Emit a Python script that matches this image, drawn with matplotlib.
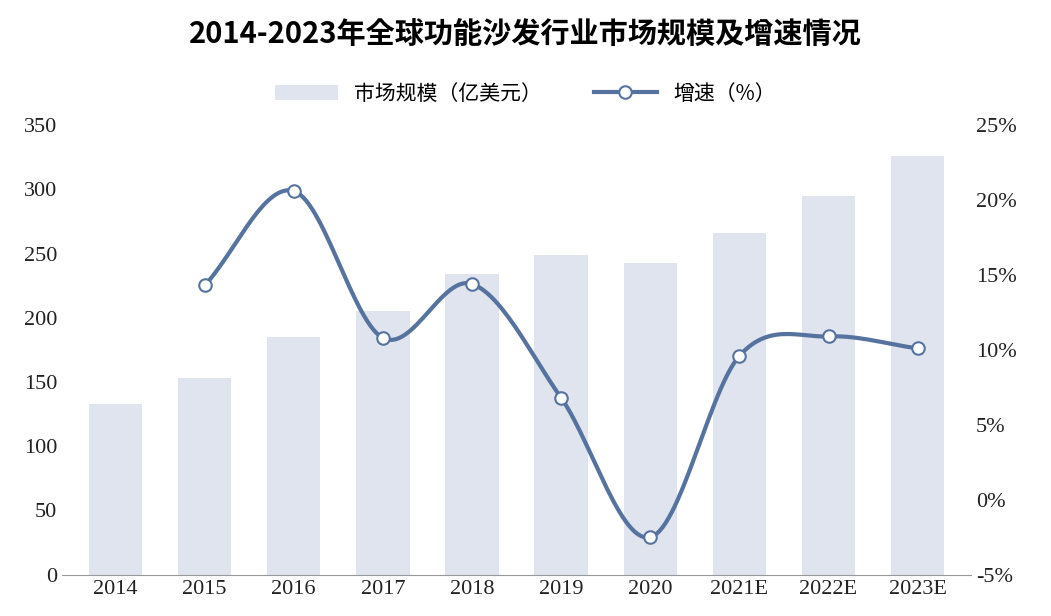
import numpy as np
import matplotlib.pyplot as plt
from matplotlib import font_manager as fm

cjk = [f.name for f in fm.fontManager.ttflist if 'CJK' in f.name]
plt.rcParams['font.family'] = 'sans-serif'
plt.rcParams['font.sans-serif'] = ['Noto Sans CJK SC', 'Noto Sans CJK JP'] + cjk + ['DejaVu Sans']

years = ['2014', '2015', '2016', '2017', '2018', '2019', '2020', '2021E', '2022E', '2023E']
market = [133, 153, 185, 205, 234, 249, 243, 266, 295, 326]
growth_years = years[1:]
growth = [14.3, 20.6, 10.8, 14.4, 6.8, -2.5, 9.6, 10.9, 10.1]


def smooth(x, y, n=30):
    # catmull-rom curve through the points, only for the look of the line
    x = np.asarray(x, float); y = np.asarray(y, float)
    px = np.concatenate([[2 * x[0] - x[1]], x, [2 * x[-1] - x[-2]]])
    py = np.concatenate([[2 * y[0] - y[1]], y, [2 * y[-1] - y[-2]]])
    xs, ys = [], []
    t = np.linspace(0, 1, n)
    for i in range(1, len(px) - 2):
        for p, out in ((px, xs), (py, ys)):
            p0, p1, p2, p3 = p[i - 1], p[i], p[i + 1], p[i + 2]
            out.extend(0.5 * (2 * p1 + (-p0 + p2) * t + (2 * p0 - 5 * p1 + 4 * p2 - p3) * t ** 2
                              + (-p0 + 3 * p1 - 3 * p2 + p3) * t ** 3))
    return xs, ys


fig = plt.figure(figsize=(10.51, 6.16), dpi=100)
ax = fig.add_axes([0.059, 0.067, 0.865, 0.73])
x = np.arange(len(years))
ax.bar(x, market, width=0.6, color='#dfe4ee', label='市场规模（亿美元）')
ax.set_ylim(0, 350)
ax.set_yticks(range(0, 351, 50))
ax.set_xlim(-0.6, len(years) - 0.4)
ax.set_xticks(x)
ax.set_xticklabels(years)

ax2 = ax.twinx()
gx = x[1:]
sx, sy = smooth(gx, growth)
ax2.plot(sx, sy, color='#56739f', lw=3, zorder=3)
ax2.plot(gx, growth, 'o', color='#56739f', mfc='white', mew=1.5, ms=9, zorder=4)
ax2.plot([], [], '-o', color='#56739f', mfc='white', lw=3, mew=1.5, ms=9, label='增速（%）')
ax2.set_ylim(-5, 25)
ax2.set_yticks(range(-5, 26, 5))
ax2.set_yticklabels([f'{v}%' for v in range(-5, 26, 5)])

for a in (ax, ax2):
    for s in a.spines.values():
        s.set_visible(False)
    a.tick_params(length=0, labelsize=16, colors='#222222')
    for lab in a.get_xticklabels() + a.get_yticklabels():
        lab.set_family('Liberation Serif')
ax.spines['bottom'].set_visible(True)
ax.spines['bottom'].set_color('#999999')

h1, l1 = ax.get_legend_handles_labels()
h2, l2 = ax2.get_legend_handles_labels()
fig.legend(h1 + h2, l1 + l2, loc='center', bbox_to_anchor=(0.5, 0.848), ncol=2, frameon=False,
           fontsize=15, handlelength=3, columnspacing=2.5)
fig.text(0.5, 0.945, '2014-2023年全球功能沙发行业市场规模及增速情况', ha='center', va='center',
         fontsize=21, fontweight='bold')
fig.savefig('out.png', dpi=100)
